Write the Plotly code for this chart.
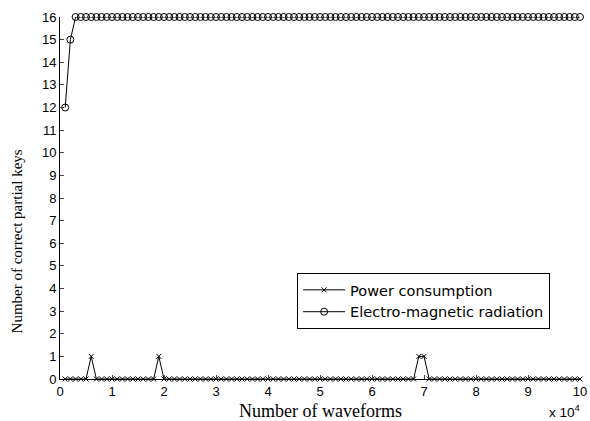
import plotly.graph_objects as go

x_vals = [round(0.1 * i, 1) for i in range(1, 101)]  # x 10^4 waveforms
spikes = {0.6: 1, 1.9: 1, 6.9: 1, 7.0: 1}
power = [spikes.get(x, 0) for x in x_vals]
em_start = [12, 15]
em = em_start + [16] * (len(x_vals) - len(em_start))

x_ticks = list(range(0, 11))
y_ticks = list(range(0, 17))

fig = go.Figure()
fig.add_trace(go.Scatter(
    x=x_vals, y=power, mode="lines+markers", name="Power consumption",
    line=dict(color="black", width=1),
    marker=dict(symbol="x-thin-open", size=5, color="black", line=dict(width=1, color="black")),
    cliponaxis=False))
fig.add_trace(go.Scatter(
    x=x_vals, y=em, mode="lines+markers", name="Electro-magnetic radiation",
    line=dict(color="black", width=1),
    marker=dict(symbol="circle-open", size=7, color="black", line=dict(width=1, color="black")),
    cliponaxis=False))

serif = "Liberation Serif, Times New Roman, serif"
fig.update_layout(
    width=590, height=421,
    margin=dict(l=60, r=10, t=17, b=42, autoexpand=False),
    paper_bgcolor="white", plot_bgcolor="white",
    font=dict(family="Liberation Sans, Arial", size=13, color="black"),
    legend=dict(x=0.456, y=0.293, xanchor="left", yanchor="top",
                bgcolor="white", bordercolor="black", borderwidth=1,
                font=dict(family="DejaVu Sans, Liberation Sans", size=14.5),
                itemwidth=42, tracegroupgap=0),
    xaxis=dict(range=[0, 10], tickvals=x_ticks, ticks="inside", ticklen=4, automargin=False,
               showgrid=False, zeroline=False, showline=True, linecolor="black", linewidth=1,
               tickfont=dict(size=13)),
    yaxis=dict(range=[0, 16], tickvals=y_ticks, ticks="inside", ticklen=4, automargin=False,
               showgrid=False, zeroline=False, showline=True, linecolor="black", linewidth=1,
               tickfont=dict(size=13)),
    annotations=[
        dict(text="Number of waveforms", xref="paper", yref="paper", x=0.5, y=-0.088,
             xanchor="center", yanchor="middle", showarrow=False,
             font=dict(family=serif, size=18)),
        dict(text="Number of correct partial keys", xref="paper", yref="paper", x=-0.0827, y=0.38,
             xanchor="center", yanchor="middle", showarrow=False, textangle=-90,
             font=dict(family=serif, size=15)),
        dict(text="x 10<sup>4</sup>", xref="paper", yref="paper", x=1.004, y=-0.088,
             xanchor="right", yanchor="middle", showarrow=False,
             font=dict(family="Liberation Sans, Arial", size=13.5)),
    ],
)

fig.write_html("out.html", config={"displayModeBar": False},
               post_script="document.body.style.margin='0';document.body.style.overflow='hidden';")
